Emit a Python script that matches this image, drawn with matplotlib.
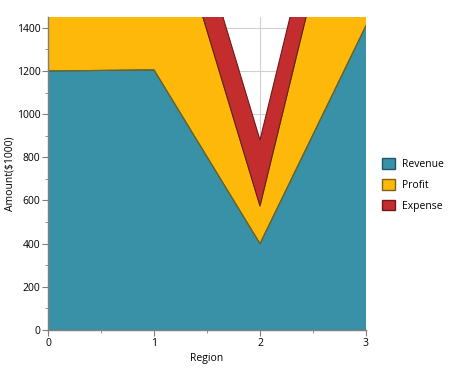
import numpy as np
import matplotlib
matplotlib.use('Agg')
import matplotlib.pyplot as plt
from matplotlib.patches import Patch

# data
regions = [0, 1, 2, 3]
revenue = [1200, 1205, 400, 1410]
profit = [1000, 995, 175, 1180]
expense = [310, 310, 305, 300]
series_names = ['Revenue', 'Profit', 'Expense']

colors = ['#3891A7', '#FEB80A', '#C32D2E']
edges = ['#1F5566', '#7A6418', '#6E1A1A']

plt.rcParams['font.family'] = ['Open Sans', 'DejaVu Sans']
plt.rcParams['font.size'] = 7.5

fig = plt.figure(figsize=(4.6, 3.7), dpi=100)
ax = fig.add_axes([48 / 460, 40 / 370, 318 / 460, 313 / 370])

x = np.array(regions)
stack = np.vstack([revenue, profit, expense])
base = np.zeros(len(x))
for i, (vals, c, ec) in enumerate(zip(stack, colors, edges)):
    top = base + vals
    ax.fill_between(x, base, top, facecolor=c, edgecolor='none', zorder=2)
    # each area is outlined; the upper series' bottom edge sits on the boundary
    ax.plot(x, top, color=ec, lw=0.8, zorder=3 + i)
    if i > 0:
        ax.plot(x, base, color=ec, lw=0.8, zorder=3 + i)
    base = top

ax.set_xlim(0, 3)
ax.set_ylim(0, 1450)
ax.set_xticks(regions)
ax.set_xticks([0.5, 1.5, 2.5], minor=True)
ax.set_yticks(np.arange(0, 1401, 200))
ax.set_yticks(np.arange(100, 1450, 200), minor=True)
ax.grid(True, which='major', color='#D0D0D0', lw=0.8, zorder=0)
ax.set_axisbelow(True)

for s in ['top', 'right']:
    ax.spines[s].set_visible(False)
for s in ['left', 'bottom']:
    ax.spines[s].set_color('#7F7F7F')
    ax.spines[s].set_linewidth(1.0)
    ax.spines[s].set_zorder(10)
ax.tick_params(which='both', color='#7F7F7F', direction='out')
ax.tick_params(which='major', length=4, pad=1.5)
ax.tick_params(which='minor', length=2.5)

ax.set_xlabel('Region', labelpad=3)
ax.set_ylabel('Amount($1000)', labelpad=1)

handles = [Patch(facecolor=c, edgecolor=ec, lw=1.0) for c, ec in zip(colors, edges)]
fig.legend(handles, series_names, loc='center left', bbox_to_anchor=(373 / 460, 1 - 185 / 370),
           frameon=False, handlelength=1.2, handleheight=1.2, handletextpad=0.7, labelspacing=0.85)

fig.savefig('out.png', dpi=100)
